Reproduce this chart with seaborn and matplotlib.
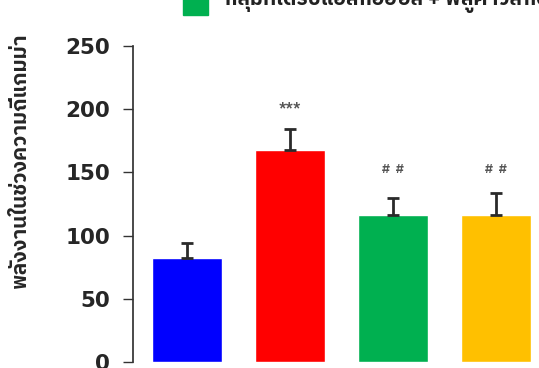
import matplotlib
matplotlib.use("Agg")
import matplotlib.pyplot as plt
import matplotlib.font_manager as fm
import seaborn as sns
import pandas as pd

# values
groups = ["control", "alcohol", "alcohol + extract A", "alcohol + extract B"]
power = [82, 168, 116, 116]
sem = [12, 16, 14, 18]
marks = ["", "***", "# #", "# #"]
mark_height = [0, 196, 147, 147]
colors = ["#0000FF", "#FF0000", "#00B050", "#FFC000"]
ylabel = "พลังงานในช่วงความถี่แกมม่า"
legend_label = "กลุ่มที่ได้รับแอลกอฮอล์ + พลูคาวสกัด"

sns.set_theme(style="white")
keys = ("Thai", "Tlwg", "Garuda", "Loma", "Kinnari", "Norasi", "Sarabun",
        "Waree", "Umpush", "Laksaman", "Sawasdee", "Purisa", "Kanit", "Prompt")
thai = sorted({f.name for f in fm.fontManager.ttflist if any(k in f.name for k in keys)})
plt.rcParams["font.family"] = thai[:1] + ["DejaVu Sans"]

df = pd.DataFrame({"group": groups, "power": power})

fig = plt.figure(figsize=(5.39, 3.68), dpi=100)
ax = fig.add_axes([0.247, 0.016, 0.753, 0.859])

sns.barplot(data=df, x="group", y="power", hue="group", palette=colors,
            width=0.68, legend=False, ax=ax, saturation=1)
ax.errorbar(range(len(groups)), power, yerr=[[0] * len(sem), sem], fmt="none",
            ecolor="#2a2a2a", elinewidth=2, capsize=4, capthick=2)
for i, m in enumerate(marks):
    if m:
        ax.text(i, mark_height[i], m.replace(" ", "  "), ha="center", va="bottom",
                fontsize=9, color="#555555", fontweight="bold")

ax.set_ylim(0, 250)
ax.set_xlim(-0.524, 3.42)
ax.set_yticks([0, 50, 100, 150, 200, 250])
ax.tick_params(axis="y", direction="out", length=7.5, width=1, color="#333333",
               labelsize=15.5, left=True, pad=9)
for t in ax.get_yticklabels():
    t.set_fontweight("bold")
    t.set_family("DejaVu Sans")
ax.set_xticks([])
ax.set_xlabel("")
ax.set_ylabel(ylabel, fontsize=15, fontweight="bold")
ax.yaxis.set_label_coords(-0.255, 0.64)
for s in ("top", "right", "bottom"):
    ax.spines[s].set_visible(False)
ax.spines["left"].set_color("#333333")

# legend entry, cut off at the top of the picture
fig.patches.append(plt.Rectangle((0.34, 0.959), 0.046, 0.07, transform=fig.transFigure,
                                 color="#00B050", figure=fig))
fig.text(0.415, 0.965, legend_label, fontsize=15, fontweight="bold", va="bottom",
         color="#222222")

fig.savefig("out.png", dpi=100)
